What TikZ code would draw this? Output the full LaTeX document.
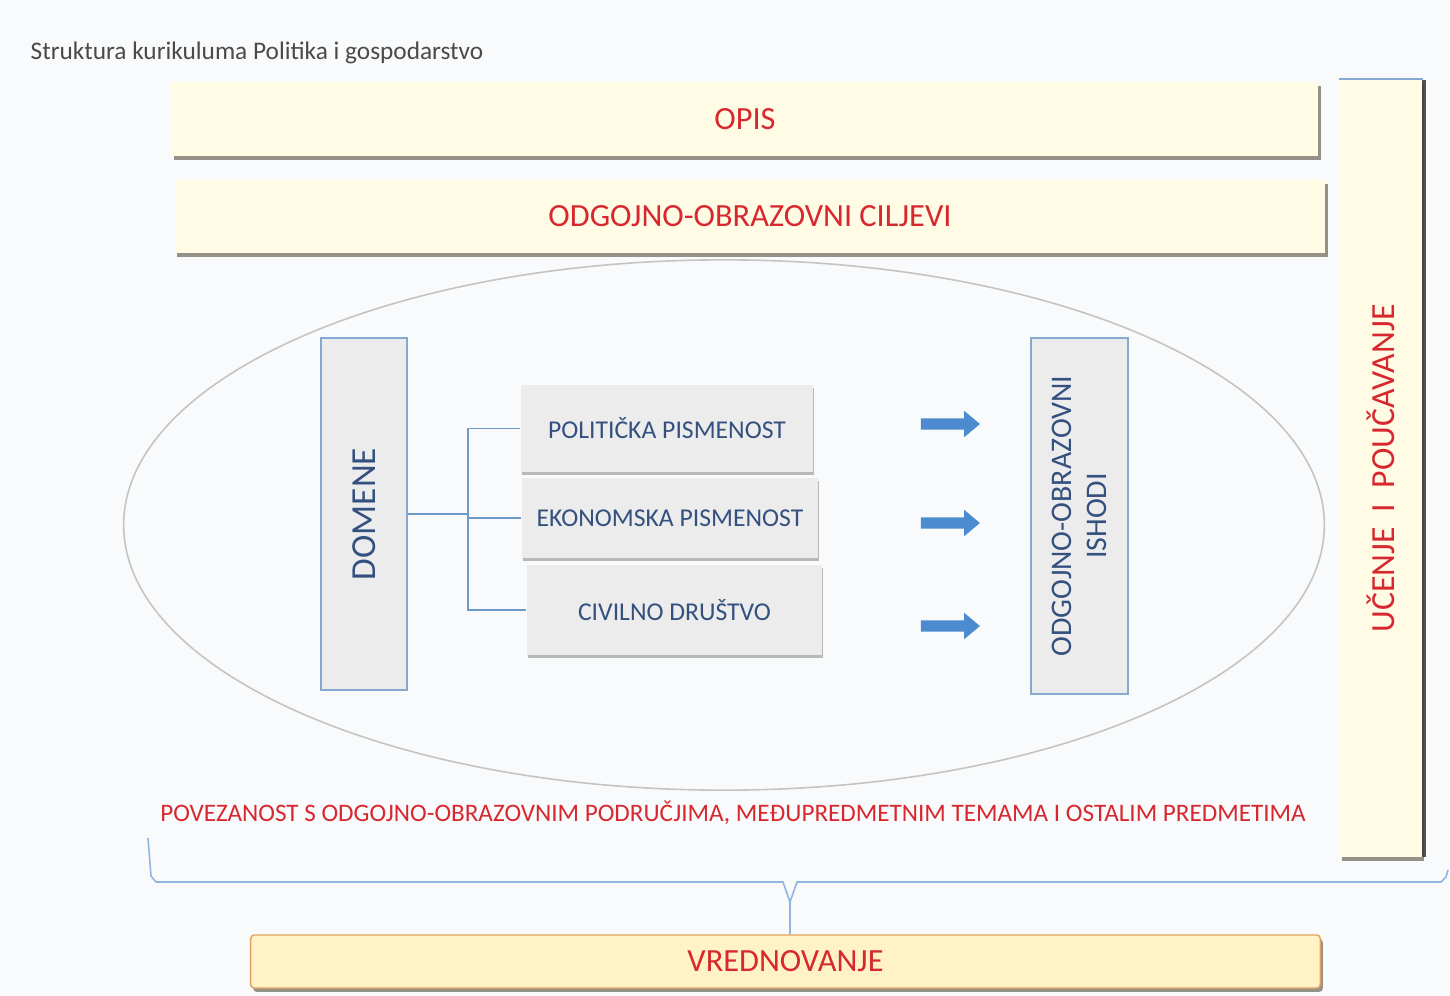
\documentclass[tikz,border=0pt]{standalone}
\usepackage{fontspec}
\setmainfont{Carlito}
\usetikzlibrary{shapes.arrows}
\usetikzlibrary{shapes.geometric}
\usetikzlibrary{shadows}
\definecolor{color_page}{HTML}{F9FAFB}
\definecolor{color_bar_fill}{HTML}{FFFBE4}
\definecolor{color_bar_eval}{HTML}{FFF3C6}
\definecolor{color_bar_edge}{HTML}{E2A25E}
\definecolor{color_bar_shadow}{HTML}{8A877C}
\definecolor{color_text_red}{HTML}{D6282E}
\definecolor{color_text_navy}{HTML}{34507F}
\definecolor{color_text_grey}{HTML}{4A4A4A}
\definecolor{color_box_fill}{HTML}{ECECEC}
\definecolor{color_box_edge}{HTML}{86A9D2}
\definecolor{color_link}{HTML}{6E9ACA}
\definecolor{color_arrow}{HTML}{4C8BCF}
\definecolor{color_oval}{HTML}{C4C4C4}
\definecolor{color_brace}{HTML}{8FB5E0}
\def\barfont{\fontsize{9.2}{10}\selectfont}
\def\boxfont{\fontsize{7.3}{8}\selectfont}
\def\linkwidth{0.5pt}
\tikzset{
    bar/.style={fill=color_bar_fill, inner sep=0pt, text=color_text_red, font=\barfont,
        drop shadow={shadow xshift=0.7pt, shadow yshift=-1.1pt, fill=color_bar_shadow, opacity=0.9}},
    domainbox/.style={fill=color_box_fill, inner sep=0pt, text=color_text_navy, font=\boxfont,
        drop shadow={shadow xshift=0.3pt, shadow yshift=-0.9pt, fill=black!45, opacity=0.6}},
    sidebox/.style={fill=color_box_fill, draw=color_box_edge, line width=0.45pt, inner sep=0pt,
        text=color_text_navy, rotate=90},
    link/.style={color_link, line width=\linkwidth},
    blockarrow/.style={single arrow, fill=color_arrow, draw=none, inner sep=0.05cm,
        minimum height=0.59cm, minimum width=0.25cm, single arrow head extend=0.075cm,
        single arrow tip angle=80}
}
\begin{document}
\begin{tikzpicture}[x=0.01cm,y=-0.01cm]
    \fill[color_page] (0,0) rectangle (1450,996);
    \node[anchor=west, inner sep=0pt, text=color_text_grey, font=\fontsize{7.2}{8}\selectfont] (title) at (30,53)
        {Struktura kurikuluma Politika i gospodarstvo};
    % bars round the picture
    \node[bar, minimum width=11.46cm, minimum height=0.74cm] (opis) at (745,119) {OPIS};
    \node[bar, minimum width=11.5cm, minimum height=0.73cm] (ciljevi) at (750,216.5) {ODGOJNO-OBRAZOVNI CILJEVI};
    \node[bar, rotate=90, minimum width=7.77cm, minimum height=0.82cm, font=\fontsize{9.6}{10}\selectfont,
        drop shadow={shadow xshift=1.2pt, shadow yshift=0pt, fill=black!75, opacity=0.9}] (ucenje) at (1381,468.5)
        {UČENJE \ I \ POUČAVANJE};
    \draw[color_box_edge, line width=0.6pt] (ucenje.south east) -- (ucenje.north east);
    \node[bar, fill=color_bar_eval, draw=color_bar_edge, line width=0.4pt, rounded corners=1pt,
        minimum width=10.69cm, minimum height=0.53cm] (vred) at (785.5,961.5) {VREDNOVANJE};
    % the oval with the domains
    \node[draw=color_oval, line width=0.45pt, ellipse, minimum width=12cm, minimum height=5.3cm] (oval) at (724,525) {};
    \node[sidebox, minimum width=3.52cm, minimum height=0.86cm, font=\fontsize{10}{11}\selectfont] (domene) at (364,514) {DOMENE};
    \node[domainbox, minimum width=2.92cm, minimum height=0.87cm] (polit) at (667,428.5) {POLITIČKA PISMENOST};
    \node[domainbox, minimum width=2.96cm, minimum height=0.80cm] (ekon) at (670,518) {EKONOMSKA PISMENOST};
    \node[domainbox, minimum width=2.95cm, minimum height=0.90cm] (civil) at (674.5,610) {CIVILNO DRUŠTVO};
    \node[sidebox, minimum width=3.56cm, minimum height=0.97cm, align=center, font=\fontsize{8.5}{10}\selectfont] (ishodi) at (1079.5,516)
        {ODGOJNO-OBRAZOVNI\\ISHODI};
    \draw[link] (domene.south) -- (468,514) coordinate (split);
    \foreach \b in {polit,ekon,civil}
        \draw[link] (split) |- (\b.west);
    \foreach \y [count=\i] in {424,523,626}
        \node[blockarrow] (arrow\i) at (947,\y) {};
    \node[text=color_text_red, inner sep=0pt, font=\fontsize{7.15}{8}\selectfont] (povez) at (733,813)
        {POVEZANOST S ODGOJNO-OBRAZOVNIM PODRUČJIMA, MEĐUPREDMETNIM TEMAMA I OSTALIM PREDMETIMA};
    % brace down to the evaluation
    \coordinate (braceL) at (148,838);
    \coordinate (braceR) at (1448,870);
    \coordinate (braceTip) at (790,902);
    \draw[color_brace, line width=0.45pt] (braceL) -- (151,876) -- (156,882) -- (783,882) -- (braceTip)
        -- (797,882) -- (1441,882) -- (1446,877) -- (braceR);
    \draw[color_brace, line width=0.45pt] (braceTip) -- (braceTip |- vred.north);
\end{tikzpicture}
\end{document}
